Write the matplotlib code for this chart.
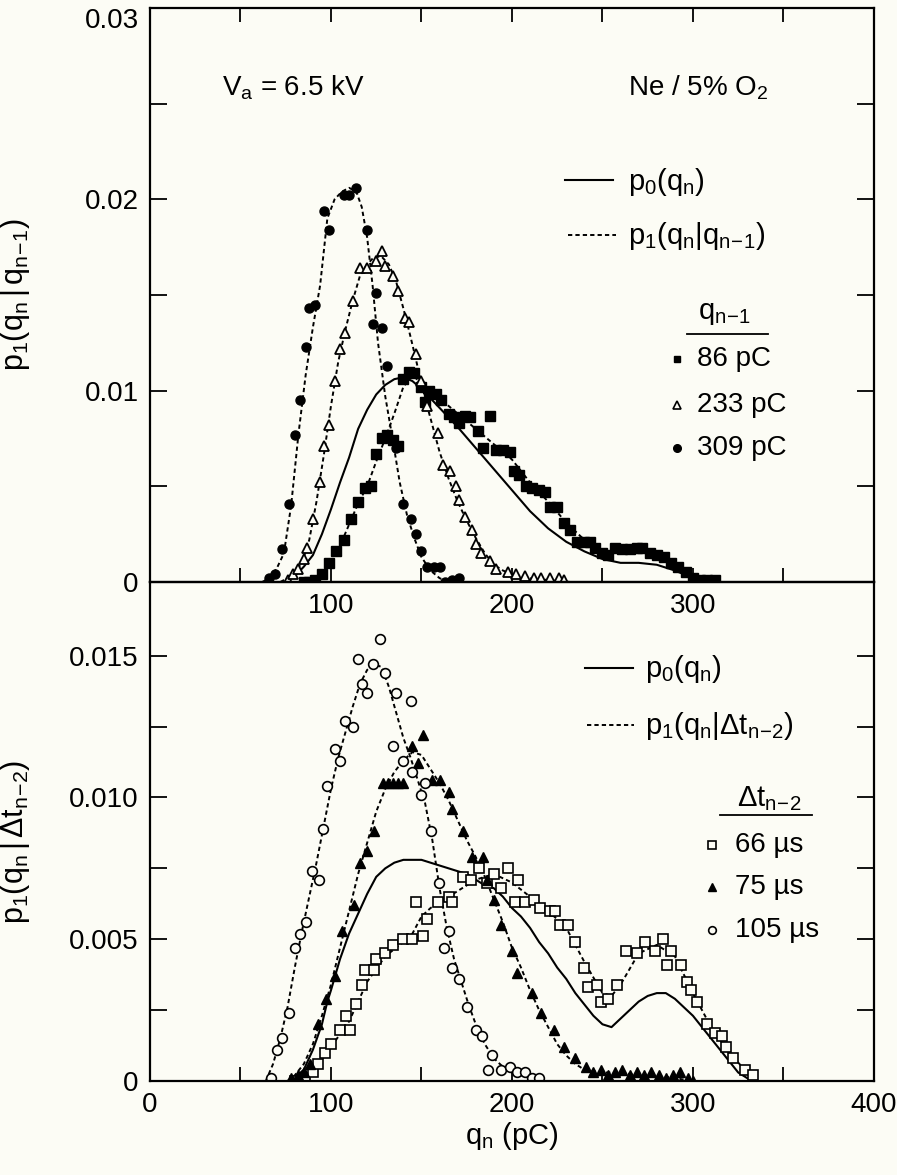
import numpy as np
import matplotlib.pyplot as plt

plt.rcParams['font.family'] = ['Liberation Sans', 'DejaVu Sans']
plt.rcParams['mathtext.fontset'] = 'custom'
plt.rcParams['mathtext.rm'] = 'Liberation Sans'
plt.rcParams['mathtext.it'] = 'Liberation Sans'
plt.rcParams['mathtext.default'] = 'regular'

paper = '#fcfcf5'

# ---- top panel: conditioned on previous charge q_{n-1} ----
p0_top_q = [75, 80, 85, 90, 95, 100, 105, 110, 115, 120, 125, 130, 135, 140, 145, 150, 160, 170,
            180, 190, 200, 210, 220, 230, 240, 250, 260, 270, 280, 290, 300, 305]
p0_top_p = [0, 0.0003, 0.0008, 0.0014, 0.0025, 0.0038, 0.0052, 0.0065, 0.0080, 0.0090, 0.0098,
            0.0103, 0.0106, 0.0107, 0.0105, 0.0101, 0.0091, 0.0081, 0.0070, 0.0059, 0.0048,
            0.0037, 0.0028, 0.0021, 0.0016, 0.0012, 0.0010, 0.0010, 0.0009, 0.0006, 0.0002, 0.0]

fit86_q = [84, 90, 95, 100, 105, 110, 115, 120, 125, 130, 135, 140, 145, 150, 155, 160, 170, 180,
           190, 200, 210, 220, 230, 240, 250, 260, 270, 280, 290, 300, 310]
fit86_p = [0, 0.0001, 0.0004, 0.0010, 0.0019, 0.0030, 0.0041, 0.0050, 0.0063, 0.0075, 0.0088,
           0.0102, 0.0108, 0.0104, 0.0099, 0.0096, 0.0088, 0.0080, 0.0072, 0.0064, 0.0052, 0.0042,
           0.0031, 0.0022, 0.0016, 0.0016, 0.0017, 0.0015, 0.0009, 0.0002, 0.0]

fit233_q = [72, 76, 80, 84, 88, 92, 96, 100, 104, 108, 112, 116, 120, 124, 128, 132, 136, 140, 144,
            148, 152, 156, 160, 165, 170, 175, 180, 185, 190, 195, 200, 210, 220, 232]
fit233_p = [0, 0.0002, 0.0005, 0.0010, 0.0022, 0.0042, 0.0066, 0.0092, 0.0115, 0.0132, 0.0147,
            0.0160, 0.0166, 0.0170, 0.0170, 0.0166, 0.0157, 0.0143, 0.0128, 0.0112, 0.0096, 0.0082,
            0.0068, 0.0054, 0.0042, 0.0032, 0.0023, 0.0015, 0.0009, 0.0006, 0.0004, 0.0002, 0.0001, 0.0]

fit309_q = [62, 66, 70, 74, 78, 82, 86, 90, 94, 98, 102, 106, 110, 114, 117, 120, 123, 126, 130,
            134, 138, 142, 146, 150, 155, 160, 165]
fit309_p = [0, 0.0002, 0.0007, 0.0015, 0.0040, 0.0077, 0.0108, 0.0133, 0.0155, 0.0190, 0.0200,
            0.0204, 0.0206, 0.0204, 0.0196, 0.0180, 0.0155, 0.0125, 0.0097, 0.0075, 0.0052, 0.0035,
            0.0023, 0.0013, 0.0006, 0.0002, 0.0]

sq86_q = [85, 88, 91, 95, 99, 103, 107, 111, 115, 119, 122, 125, 128, 131, 134, 137, 140, 143, 146,
          150, 152, 154, 158, 161, 165, 168, 171, 174, 177, 181, 184, 188, 191, 195, 199, 201, 204,
          208, 211, 215, 218, 221, 225, 229, 232, 236, 240, 243, 246, 250, 253, 257, 261, 265, 269,
          272, 276, 280, 284, 288, 292, 296, 300, 304, 308, 312]
sq86_p = [0.0, 0.0, 0.0001, 0.0004, 0.0010, 0.0016, 0.0022, 0.0033, 0.0042, 0.0049, 0.0050, 0.0067,
          0.0075, 0.0077, 0.0074, 0.0071, 0.0106, 0.0110, 0.0109, 0.0102, 0.0094, 0.0100, 0.0098,
          0.0095, 0.0088, 0.0086, 0.0083, 0.0087, 0.0086, 0.0079, 0.0070, 0.0087, 0.0069, 0.0069,
          0.0068, 0.0058, 0.0056, 0.0050, 0.0049, 0.0048, 0.0047, 0.0039, 0.0039, 0.0031, 0.0027,
          0.0021, 0.0021, 0.0021, 0.0018, 0.0015, 0.0014, 0.0018, 0.0017, 0.0017, 0.0018, 0.0018,
          0.0015, 0.0014, 0.0013, 0.0010, 0.0008, 0.0005, 0.0002, 0.0001, 0.0001, 0.0001]

tri233_q = [76, 79, 82, 85, 87, 90, 94, 96, 99, 102, 105, 108, 112, 116, 120, 125, 128, 130, 134,
            137, 141, 143, 147, 150, 153, 159, 162, 166, 169, 171, 174, 178, 180, 183, 188, 191,
            198, 202, 207, 212, 216, 221, 226, 229]
tri233_p = [0.0001, 0.0004, 0.0007, 0.0012, 0.0018, 0.0033, 0.0052, 0.0071, 0.0082, 0.0105, 0.0122,
            0.0130, 0.0147, 0.0164, 0.0164, 0.0168, 0.0173, 0.0165, 0.0160, 0.0152, 0.0138, 0.0136,
            0.0119, 0.0105, 0.0092, 0.0078, 0.0061, 0.0058, 0.0050, 0.0043, 0.0034, 0.0027, 0.0020,
            0.0015, 0.0011, 0.0007, 0.0005, 0.0004, 0.0003, 0.0002, 0.0002, 0.0002, 0.0002, 0.0001]

circ309_q = [66, 69, 73, 77, 80, 83, 86, 88, 91, 96, 99, 107, 110, 114, 120, 123, 125, 128, 131,
             136, 140, 144, 147, 150, 153, 157, 160, 163, 167, 171]
circ309_p = [0.0002, 0.0004, 0.0017, 0.0041, 0.0077, 0.0095, 0.0123, 0.0143, 0.0145, 0.0194, 0.0184,
             0.0202, 0.0202, 0.0206, 0.0184, 0.0135, 0.0151, 0.0133, 0.0113, 0.0070, 0.0041, 0.0033,
             0.0025, 0.0016, 0.0008, 0.0008, 0.0008, 0.0000, 0.0001, 0.0002]

# ---- bottom panel: conditioned on time separation dt_{n-2} ----
p0_bot_q = [78, 85, 90, 95, 98, 100, 105, 110, 115, 120, 125, 130, 135, 140, 145, 150, 155, 160,
            165, 170, 175, 180, 185, 190, 195, 200, 205, 210, 215, 220, 225, 230, 235, 240, 245,
            250, 255, 260, 265, 270, 275, 280, 285, 290, 295, 300, 305, 310, 315, 320, 325, 330, 334]
p0_bot_p = [0, 0.0004, 0.0011, 0.0020, 0.0028, 0.0032, 0.0043, 0.0052, 0.0059, 0.0066, 0.0072,
            0.0075, 0.0077, 0.0078, 0.0078, 0.0078, 0.0077, 0.0076, 0.0075, 0.0074, 0.0073, 0.0071,
            0.0069, 0.0068, 0.0065, 0.0061, 0.0058, 0.0054, 0.0049, 0.0045, 0.0040, 0.0036, 0.0031,
            0.0027, 0.0023, 0.0020, 0.0019, 0.0022, 0.0025, 0.0028, 0.0030, 0.0031, 0.0031, 0.0029,
            0.0026, 0.0023, 0.0019, 0.0015, 0.0011, 0.0007, 0.0003, 0.0001, 0.0]

fit66_q = [80, 90, 100, 110, 120, 130, 140, 145, 150, 155, 160, 170, 180, 190, 200, 210, 220, 230,
           240, 250, 255, 260, 270, 280, 290, 300, 310, 320, 330, 336]
fit66_p = [0, 0.0003, 0.0012, 0.0021, 0.0035, 0.0044, 0.0049, 0.0052, 0.0058, 0.0061, 0.0063,
           0.0067, 0.0071, 0.0073, 0.0070, 0.0065, 0.0060, 0.0054, 0.0042, 0.0031, 0.0030, 0.0034,
           0.0045, 0.0048, 0.0044, 0.0031, 0.0019, 0.0010, 0.0003, 0.0]

fit75_q = [76, 80, 85, 90, 95, 100, 105, 110, 115, 120, 125, 130, 135, 140, 145, 150, 155, 160, 165,
           170, 175, 180, 185, 190, 195, 200, 205, 210, 215, 220, 225, 230, 235, 240, 250, 260, 270,
           280, 290, 300]
fit75_p = [0, 0.0002, 0.0006, 0.0013, 0.0023, 0.0034, 0.0047, 0.0060, 0.0073, 0.0084, 0.0095,
           0.0103, 0.0109, 0.0113, 0.0116, 0.0115, 0.0110, 0.0105, 0.0099, 0.0092, 0.0085, 0.0079,
           0.0072, 0.0064, 0.0056, 0.0047, 0.0040, 0.0032, 0.0025, 0.0019, 0.0013, 0.0009, 0.0006,
           0.0004, 0.0003, 0.0003, 0.0002, 0.0002, 0.0001, 0.0]

fit105_q = [64, 68, 72, 76, 80, 84, 88, 92, 96, 100, 104, 108, 112, 116, 120, 124, 128, 132, 136,
            140, 144, 148, 152, 156, 160, 164, 168, 172, 176, 180, 185, 190, 195, 200, 210, 218]
fit105_p = [0, 0.0006, 0.0015, 0.0026, 0.0040, 0.0053, 0.0065, 0.0077, 0.0090, 0.0103, 0.0114,
            0.0123, 0.0132, 0.0140, 0.0145, 0.0147, 0.0146, 0.0139, 0.0130, 0.0121, 0.0114, 0.0106,
            0.0098, 0.0085, 0.0068, 0.0054, 0.0043, 0.0035, 0.0027, 0.0020, 0.0013, 0.0008, 0.0005,
            0.0003, 0.0001, 0.0]

sq66_q = [80, 85.5, 90, 93, 96.5, 100, 105, 108.5, 110.5, 114, 117, 119, 124, 125, 130, 134, 140,
          145, 147, 151, 153, 159, 165, 167, 173, 177.5, 182, 186, 190, 194, 198, 201.5, 203.5, 207,
          212, 215.5, 221, 224, 226.5, 231, 235, 240, 242, 247, 249, 253, 258, 263, 269, 273.5, 279,
          283.5, 285.5, 288, 293.5, 296.5, 299, 302, 307.5, 312, 316, 318.5, 322, 329, 333]
sq66_p = [0.0, 0.0001, 0.0003, 0.0006, 0.0010, 0.0013, 0.0018, 0.0023, 0.0018, 0.0027, 0.0034,
          0.0039, 0.0039, 0.0043, 0.0045, 0.0048, 0.0050, 0.0050, 0.0063, 0.0051, 0.0057, 0.0063,
          0.0065, 0.0063, 0.0072, 0.0071, 0.0075, 0.0070, 0.0073, 0.0068, 0.0075, 0.0063, 0.0071,
          0.0063, 0.0064, 0.0061, 0.0060, 0.0060, 0.0055, 0.0055, 0.0049, 0.0040, 0.0033, 0.0034,
          0.0028, 0.0029, 0.0034, 0.0046, 0.0045, 0.0049, 0.0046, 0.0050, 0.0041, 0.0046, 0.0041,
          0.0035, 0.0032, 0.0028, 0.0020, 0.0017, 0.0016, 0.0012, 0.0008, 0.0004, 0.0002]

tri75_q = [78, 82, 85, 88.5, 93, 97.5, 102, 106, 113, 116, 120, 124, 129, 131.5, 134, 137, 140, 145,
           148, 151, 156, 160, 165, 167, 173, 178, 184, 186, 190, 194, 200, 203, 211, 216, 223, 229,
           235, 241, 245, 249, 253, 257, 261, 265, 269, 273, 277, 281, 285, 289, 293, 297, 300]
tri75_p = [0.0001, 0.0002, 0.0003, 0.0006, 0.0020, 0.0029, 0.0037, 0.0053, 0.0062, 0.0077, 0.0081,
           0.0088, 0.0105, 0.0105, 0.0105, 0.0105, 0.0105, 0.0118, 0.0112, 0.0122, 0.0106, 0.0106,
           0.0102, 0.0096, 0.0088, 0.0079, 0.0079, 0.0071, 0.0064, 0.0055, 0.0046, 0.0038, 0.0031,
           0.0024, 0.0018, 0.0012, 0.0008, 0.0005, 0.0003, 0.0004, 0.0002, 0.0003, 0.0004, 0.0002,
           0.0003, 0.0002, 0.0003, 0.0002, 0.0001, 0.0002, 0.0003, 0.0001, 0.0]

circ105_q = [67, 70, 73, 77, 80, 83, 86, 89.5, 93.5, 95.5, 98, 102, 105, 108, 112, 115, 117, 120,
             123, 127, 130, 134, 136, 140, 144, 145, 149.5, 152, 155, 159.5, 162.5, 165, 167, 170.5,
             175, 180, 183.5, 187, 189, 194, 199, 203, 207, 211, 215]
circ105_p = [0.0001, 0.0011, 0.0015, 0.0024, 0.0047, 0.0052, 0.0056, 0.0074, 0.0071, 0.0089, 0.0104,
             0.0117, 0.0113, 0.0127, 0.0125, 0.0149, 0.0140, 0.0137, 0.0147, 0.0156, 0.0144, 0.0118,
             0.0137, 0.0113, 0.0134, 0.0109, 0.0101, 0.0105, 0.0088, 0.0070, 0.0047, 0.0053, 0.0040,
             0.0036, 0.0026, 0.0018, 0.0016, 0.0004, 0.0009, 0.0004, 0.0005, 0.0003, 0.0003, 0.0001,
             0.0001]

top_labels = ['86 pC', '233 pC', '309 pC']
bot_labels = ['66 \u00b5s', '75 \u00b5s', '105 \u00b5s']

# figure
fig = plt.figure(figsize=(8.97, 11.75), dpi=100, facecolor=paper)
ax1 = fig.add_axes([0.1672, 0.5047, 0.8071, 0.4885])
ax2 = fig.add_axes([0.1672, 0.0800, 0.8071, 0.4247])

dots = (0, (2.2, 1.6))

# top panel
ax1.plot(p0_top_q, p0_top_p, 'k-', lw=1.5)
ax1.plot(fit86_q, fit86_p, color='k', ls=dots, lw=1.4)
ax1.plot(fit233_q, fit233_p, color='k', ls=dots, lw=1.4)
ax1.plot(fit309_q, fit309_p, color='k', ls=dots, lw=1.4)
ax1.plot(sq86_q, sq86_p, 's', color='k', ms=6.5, ls='none')
ax1.plot(tri233_q, tri233_p, '^', mec='k', mfc=paper, mew=1.3, ms=7.5, ls='none')
ax1.plot(circ309_q, circ309_p, 'o', color='k', ms=6.5, ls='none')

# bottom panel
ax2.plot(p0_bot_q, p0_bot_p, 'k-', lw=1.5)
ax2.plot(fit66_q, fit66_p, color='k', ls=dots, lw=1.4)
ax2.plot(fit75_q, fit75_p, color='k', ls=dots, lw=1.4)
ax2.plot(fit105_q, fit105_p, color='k', ls=dots, lw=1.4)
ax2.plot(sq66_q, sq66_p, 's', mec='k', mfc=paper, mew=1.2, ms=7, ls='none')
ax2.plot(tri75_q, tri75_p, '^', color='k', ms=7, ls='none')
ax2.plot(circ105_q, circ105_p, 'o', mec='k', mfc=paper, mew=1.2, ms=7, ls='none')

for ax in (ax1, ax2):
    ax.set_facecolor('none')
    ax.set_xlim(0, 400)
    for s in ax.spines.values():
        s.set_linewidth(1.6)
    ax.tick_params(which='both', direction='in', width=1.3, labelsize=20, right=True)
    ax.tick_params(axis='x', which='both', length=10, pad=8)
    ax.tick_params(axis='y', which='both', length=12, pad=8)

ax1.set_ylim(0, 0.03)
ax1.set_xticks([100, 200, 300])
ax1.set_xticks([50, 150, 250, 350], minor=True)
ax1.set_yticks([0, 0.01, 0.02, 0.03])
ax1.set_yticklabels(['0', '0.01', '0.02', '0.03'])
ax1.set_yticks([0.005, 0.015, 0.025], minor=True)
ax1.tick_params(axis='x', which='both', top=True, bottom=True)
ax1.yaxis.get_major_ticks()[-1].label1.set_verticalalignment('top')

ax2.set_ylim(0, 0.0176)
ax2.set_xticks([0, 100, 200, 300, 400])
ax2.set_xticks([50, 150, 250, 350], minor=True)
ax2.set_yticks([0, 0.005, 0.010, 0.015])
ax2.set_yticklabels(['0', '0.005', '0.010', '0.015'])
ax2.set_yticks([0.0025, 0.0075, 0.0125], minor=True)
ax2.tick_params(axis='x', which='both', top=False, bottom=True)

ax1.set_ylabel(r'$p_1(q_n\,|\,q_{n\!-\!1})$', fontsize=22)
ax1.yaxis.set_label_coords(-0.163, 0.5)
ax2.set_ylabel(r'$p_1(q_n\,|\,\Delta t_{n\!-\!2})$', fontsize=22)
ax2.yaxis.set_label_coords(-0.163, 0.48)
ax2.set_xlabel(r'$q_n$ (pC)', fontsize=21)
ax2.xaxis.set_label_coords(0.5, -0.078)

# annotations, top panel
ax1.text(0.099, 0.861, r'$V_a$ = 6.5 kV', transform=ax1.transAxes, fontsize=20, va='center')
ax1.text(0.660, 0.861, r'Ne / 5% $O_2$', transform=ax1.transAxes, fontsize=20, va='center')
ax1.plot([0.573, 0.640], [0.700, 0.700], 'k-', lw=1.5, transform=ax1.transAxes)
ax1.plot([0.577, 0.644], [0.6045, 0.6045], color='k', ls=dots, lw=1.4, transform=ax1.transAxes)
ax1.text(0.660, 0.697, r'$p_0(q_n)$', transform=ax1.transAxes, fontsize=21, va='center')
ax1.text(0.660, 0.602, r'$p_1(q_n|q_{n\!-\!1})$', transform=ax1.transAxes, fontsize=21, va='center')
ax1.text(0.794, 0.468, r'$q_{n\!-\!1}$', transform=ax1.transAxes, fontsize=21, ha='center', va='center')
ax1.plot([0.742, 0.854], [0.432, 0.432], 'k-', lw=1.3, transform=ax1.transAxes)
ax1.plot([0.728], [0.3885], 's', color='k', ms=5, transform=ax1.transAxes)
ax1.plot([0.728], [0.308], '^', mec='k', mfc=paper, mew=1.2, ms=6, transform=ax1.transAxes)
ax1.plot([0.728], [0.2334], 'o', color='k', ms=5.5, transform=ax1.transAxes)
for lab, fy in zip(top_labels, [0.3885, 0.308, 0.2334]):
    ax1.text(0.756, fy, lab, transform=ax1.transAxes, fontsize=20, va='center')

# annotations, bottom panel
ax2.plot([0.601, 0.667], [0.8277, 0.8277], 'k-', lw=1.5, transform=ax2.transAxes)
ax2.plot([0.604, 0.669], [0.7134, 0.7134], color='k', ls=dots, lw=1.4, transform=ax2.transAxes)
ax2.text(0.684, 0.825, r'$p_0(q_n)$', transform=ax2.transAxes, fontsize=21, va='center')
ax2.text(0.684, 0.711, r'$p_1(q_n|\Delta t_{n\!-\!2})$', transform=ax2.transAxes, fontsize=21, va='center')
ax2.text(0.855, 0.566, r'$\Delta t_{n\!-\!2}$', transform=ax2.transAxes, fontsize=21, ha='center', va='center')
ax2.plot([0.787, 0.914], [0.533, 0.533], 'k-', lw=1.3, transform=ax2.transAxes)
ax2.plot([0.776], [0.473], 's', mec='k', mfc=paper, mew=1.2, ms=5.5, transform=ax2.transAxes)
ax2.plot([0.776], [0.389], '^', color='k', ms=6, transform=ax2.transAxes)
ax2.plot([0.776], [0.3026], 'o', mec='k', mfc=paper, mew=1.2, ms=5.5, transform=ax2.transAxes)
for lab, fy in zip(bot_labels, [0.473, 0.389, 0.3026]):
    ax2.text(0.808, fy, lab, transform=ax2.transAxes, fontsize=20, va='center')

fig.savefig('out.png', dpi=100, facecolor=paper)
